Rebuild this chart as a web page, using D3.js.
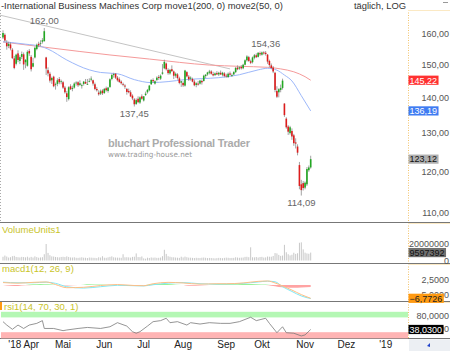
<!DOCTYPE html>
<html>
<head>
<meta charset="utf-8">
<script src="https://cdn.jsdelivr.net/npm/d3@7"></script>
<style>
body { margin: 0; background: #fff; }
svg { display: block; font-family: "Liberation Sans", Arial, sans-serif; }
</style>
</head>
<body>
<svg></svg>
<script>
// trading calendar
const firstDay = '2018-03-15';
const holidays = ['2018-03-30', '2018-05-28', '2018-07-04', '2018-09-03'];
const monthLabels = ["'18 Apr", 'Mai', 'Jun', 'Jul', 'Aug', 'Sep', 'Okt', 'Nov', 'Dez', "'19"];

// daily candles [open, high, low, close], 15.03.2018 - 06.11.2018
const ohlc = [
    [158.8,161.2,158.3,160.3],[159.7,160.2,157.4,157.8],[157.0,157.9,154.8,155.9],[156.0,157.4,155.3,156.7],
    [156.5,157.2,154.6,155.2],[154.8,155.3,151.8,152.1],[152.0,152.8,148.6,149.0],[150.3,153.5,149.8,153.2],
    [153.6,154.6,150.8,151.5],[151.2,153.0,150.2,152.4],[152.5,154.2,151.8,153.4],
    [153.3,153.9,148.4,150.1],[150.8,151.8,148.9,151.5],[149.7,154.6,149.4,154.1],[154.4,155.0,152.8,153.6],
    [152.5,153.1,147.9,148.6],[149.4,152.2,149.2,150.5],[152.3,155.8,152.0,155.4],[155.0,156.8,154.6,156.4],
    [156.7,157.4,155.6,156.2],[156.9,157.9,155.9,157.0],[157.4,158.6,156.8,157.9],[157.6,162.0,157.4,160.9],
    [152.3,152.5,146.8,148.8],[148.3,149.2,146.4,147.3],[147.2,147.8,144.5,145.1],[145.2,146.3,144.1,145.9],
    [146.3,146.6,143.1,143.4],[143.8,144.5,142.4,144.0],[144.1,145.8,143.4,145.2],[145.6,146.2,144.0,144.6],
    [144.7,145.4,144.0,144.9],
    [144.6,145.0,142.6,143.0],[143.0,143.5,141.2,141.6],[141.3,142.0,138.8,140.2],[139.6,143.4,139.2,143.1],
    [143.4,144.0,142.3,142.5],[142.6,143.6,141.9,142.9],[143.0,144.6,142.7,144.2],[144.4,144.9,143.6,144.5],
    [144.6,144.9,143.2,143.7],[143.8,145.2,143.5,144.3],[143.5,144.2,142.7,143.7],[144.1,145.0,143.6,144.8],
    [144.7,145.6,144.1,144.2],[144.0,145.6,143.8,144.1],[144.9,145.8,144.6,145.0],[145.4,146.4,144.9,145.7],
    [145.2,145.4,143.6,144.2],[144.0,144.5,142.2,142.6],[142.6,143.2,141.8,142.2],[141.5,142.2,140.6,141.0],
    [141.2,142.4,140.8,141.9],[142.1,142.5,140.8,141.3],
    [141.4,142.9,141.1,142.6],[142.8,143.3,141.8,142.2],[142.0,143.2,141.5,143.0],[143.2,145.8,142.9,145.5],
    [145.6,147.2,145.2,146.8],[146.8,147.5,146.0,147.1],[147.2,147.4,145.6,146.0],[146.0,146.5,144.8,145.2],
    [145.5,146.1,144.4,144.7],[144.8,145.2,143.9,144.3],[144.1,144.5,143.4,144.0],[143.6,144.0,142.6,143.3],
    [142.6,142.9,140.9,141.7],[142.0,142.7,141.3,141.6],[141.6,142.2,140.2,140.4],[140.6,141.0,139.3,139.8],
    [139.5,139.9,137.45,138.1],[138.2,139.8,137.9,139.3],[139.7,140.4,138.4,138.7],[138.6,140.4,138.2,140.1],
    [140.4,141.0,139.4,139.7],
    [139.2,140.5,138.9,140.4],[140.8,141.8,140.5,141.2],[141.6,142.6,141.2,142.3],[142.2,143.8,141.9,143.6],
    [144.0,145.5,143.8,145.3],[145.3,145.8,144.4,144.9],[144.2,145.2,143.9,144.9],[145.3,146.4,144.9,146.0],
    [146.2,146.8,145.3,145.9],[145.7,147.0,145.3,146.6],[147.2,150.2,146.9,147.6],[148.9,151.6,148.6,150.9],
    [150.4,150.7,148.2,148.6],[148.4,148.9,146.9,147.4],[147.3,148.7,146.9,148.4],[148.6,149.8,147.8,148.0],
    [147.9,148.2,145.6,146.6],[146.6,147.6,146.0,147.2],[147.0,147.4,145.4,145.9],[145.8,146.3,144.0,144.4],
    [144.5,145.0,143.2,144.9],
    [144.4,144.9,143.2,143.7],[143.6,148.4,143.3,148.2],[147.7,148.0,146.1,146.4],[146.3,146.8,145.0,145.5],
    [145.7,146.4,145.1,146.0],[145.6,146.0,144.6,144.8],[144.8,145.4,143.4,143.7],[143.8,144.6,143.1,144.3],
    [144.2,145.0,143.6,143.9],[144.2,145.3,143.9,145.1],[145.0,145.4,143.9,144.6],[145.0,146.9,144.8,146.6],
    [146.5,147.1,145.9,146.9],[147.0,147.8,146.6,147.6],[147.5,148.4,147.0,147.9],[147.9,148.3,146.9,147.2],
    [147.1,147.8,146.4,146.7],[146.8,147.6,146.5,147.3],[147.4,148.0,146.8,147.0],[147.0,147.8,146.5,147.5],
    [147.5,148.2,146.8,147.0],[146.9,147.8,146.4,147.5],[147.3,147.7,146.1,146.5],
    [146.6,147.2,146.0,146.4],[146.2,147.6,145.9,147.2],[147.3,147.9,146.6,146.9],[146.7,147.3,146.2,146.8],
    [147.0,148.0,146.8,147.7],[147.7,149.3,147.4,149.0],[149.1,149.8,148.3,148.6],[148.8,149.5,148.4,149.2],
    [149.3,149.9,148.5,148.9],[148.9,150.3,148.6,150.0],[150.0,151.7,149.8,151.4],[151.4,153.0,151.0,152.6],
    [152.4,152.8,150.9,151.2],[151.1,151.6,150.2,150.6],[150.8,152.6,150.4,152.3],[152.2,153.4,151.7,153.0],
    [153.0,153.6,152.1,152.4],[152.5,154.0,152.3,153.8],[153.7,154.2,152.8,153.3],
    [153.2,154.2,152.9,153.9],[153.9,154.3,153.2,153.6],[153.8,154.36,152.9,153.4],[153.2,153.4,150.3,151.0],
    [151.2,151.6,149.3,149.9],[149.8,150.4,148.6,149.0],[149.1,149.6,147.4,147.9],[147.5,147.8,141.6,142.3],
    [142.0,143.4,139.9,140.3],[141.6,142.8,140.1,142.5],[142.3,143.9,141.6,142.9],[142.9,145.7,142.4,145.1],
    [138.3,138.4,134.5,135.0],[134.0,134.4,131.2,131.6],[131.8,132.2,129.5,130.4],[130.0,132.0,129.6,131.6],
    [130.6,131.3,128.2,129.1],[129.4,129.8,126.6,127.3],[127.5,128.6,125.9,127.2],[126.4,127.0,124.1,124.8],
    [121.6,122.4,115.6,116.4],[116.8,117.9,114.09,115.4],[117.1,117.6,115.3,115.9],
    [116.0,117.5,115.6,117.2],[116.8,121.1,116.4,120.6],[120.3,121.5,119.9,121.0],[121.0,124.0,120.7,123.12]
];

// daily volume in millions
const volume = [
    4.5, 6.0, 4.8, 3.6, 4.0, 5.2, 5.6, 4.3, 4.0, 3.7, 4.4,
    4.2, 3.8, 4.6, 3.5, 4.4, 3.6, 5.0, 4.1, 3.4, 3.7, 4.0, 7.6, 20.0, 9.2, 6.4, 5.0, 4.8, 4.3, 4.0, 3.8, 4.3,
    4.5, 4.2, 5.0, 4.3, 3.7, 3.6, 3.9, 3.3, 3.2, 3.5, 3.9, 3.4, 3.3, 3.0, 3.6, 3.5, 3.3, 3.2, 2.9, 3.9, 3.6, 5.2,
    3.4, 3.3, 3.8, 4.4, 5.0, 3.9, 3.6, 3.5, 3.4, 3.3, 7.6, 3.9, 4.0, 3.8, 3.5, 4.4, 4.6, 8.6, 4.2, 4.1, 4.9,
    2.6, 2.2, 3.4, 3.1, 3.7, 3.4, 3.6, 3.2, 3.3, 3.6, 5.2, 13.0, 8.0, 5.2, 4.6, 4.0, 3.9, 3.6, 3.4, 3.2, 4.6,
    3.7, 4.7, 4.0, 3.5, 3.4, 3.2, 3.0, 3.3, 3.1, 3.0, 3.4, 3.6, 3.3, 2.9, 3.1, 3.0, 2.8, 2.6, 2.9, 3.2, 3.1, 2.8, 3.2,
    3.5, 3.3, 3.0, 3.1, 3.2, 3.9, 3.6, 3.3, 3.5, 3.6, 4.4, 4.5, 4.0, 16.0, 3.9, 3.8, 4.2, 3.6, 4.2,
    4.4, 3.6, 3.8, 4.8, 4.6, 4.6, 5.5, 9.0, 8.6, 6.8, 5.6, 6.0, 19.0, 10.0, 7.6, 6.2, 7.0, 9.4, 8.0, 8.8, 21.5, 22.0, 13.5,
    9.5, 8.6, 8.2, 9.597392
];

// moving averages read at some days (day index, value)
const ma200Days = [0, 25, 57, 78, 110, 126, 141, 148, 155, 161, 164];
const ma200 = [157.3, 155.4, 153.1, 151.8, 149.9, 149.5, 149.2, 148.7, 147.8, 146.3, 145.22];
const ma50Days = [0, 12, 20, 24, 34, 46, 52, 61, 70, 79, 88, 97, 106, 115, 126, 136, 141, 146, 150, 154, 159, 164];
const ma50 = [157.4, 156.6, 155.9, 155.0, 151.5, 148.4, 147.6, 147.2, 145.4, 144.5, 144.8, 145.4, 145.7, 146.0, 146.9, 148.4, 148.9, 148.3, 146.8, 145.0, 140.6, 136.19];

// trend line
const trendDays = [-1.6, 121];
const trend = [166.4, 148.7];

// extremes that get a label
const highDays = [22, 140];
const lowDays = [70, 159];

// macd
const macdDays = [0, 8, 16, 23, 28, 34, 43, 52, 61, 70, 75, 80, 88, 96, 105, 114, 119, 128, 136, 141, 145, 149, 154, 159, 164];
const macd = [1.2, 0.9, 1.3, 1.5, 0.2, -1.4, -1.2, -0.3, 0.2, -0.3, -0.4, 0.6, 1.3, 1.0, 0.4, 0.6, 0.6, 1.0, 1.8, 2.0, 1.0, -0.5, -2.6, -4.9, -6.7726];
const signal = [1.4, 1.1, 1.1, 1.4, 0.8, -0.9, -1.6, -0.9, -0.2, -0.4, -0.5, 0.1, 0.9, 1.2, 0.6, 0.4, 0.5, 0.8, 1.5, 1.9, 1.6, -0.9, -3.3, -5.6, -6.9];
const histDays = [0, 4, 8, 12, 16, 20, 24, 28, 34, 40, 46, 52, 58, 64, 68, 72, 76, 80, 85, 90, 95, 100, 105, 110, 115, 120, 125, 130, 135, 140, 143, 147, 151, 155, 159, 164];
const hist = [0, -0.4, -0.5, -0.2, 0.3, 0.5, 0.3, 0, -0.3, 0, 0.4, 0.2, 0, -0.1, -0.4, -0.5, -0.2, 0.3, 0.5, 0.4, 0, -0.4, -0.3, 0, 0.3, 0.4, 0.4, 0.5, 0.4, 0.2, -0.4, -1.0, -1.3, -1.4, -1.3, -1.1];

// rsi
const rsiDays = [0, 2, 5, 8, 11, 14, 18, 21, 22, 27, 32, 34, 40, 45, 52, 57, 61, 66, 69, 71, 73, 77, 80, 84, 87, 89, 93, 98, 100, 105, 110, 116, 121, 126, 132, 135, 140, 142, 146, 149, 151, 155, 159, 161, 164];
const rsi = [61, 51, 38.5, 51, 41, 51, 56, 64, 41, 41, 34.5, 36.5, 41, 44, 41, 46, 58, 48, 31.5, 27, 31.5, 48, 61, 64, 71, 58, 61, 51, 58, 54, 58, 56, 56, 61, 74, 64, 71, 56, 28.5, 46, 28.5, 27, 19, 22, 38.03];
const rsiBands = [[73.5, 90, '#b4f7b4'], [12, 30, '#ffb4b4']];

const priceTicks = [110, 120, 130, 140, 150, 160];
const volTicks = [0, 20000000];
const macdTicks = [2.5, -5];
const rsiTicks = [80, 40];

const W = 450, H = 351;
const plotRight = 408;

const svg = d3.select('svg').attr('width', W).attr('height', H);

// trading days from the first candle on, weekends and holidays left out
const days = [];
for (let d = new Date(firstDay + 'T12:00:00'); days.length < 220; d.setDate(d.getDate() + 1)) {
    const key = d3.timeFormat('%Y-%m-%d')(d);
    if (d.getDay() !== 0 && d.getDay() !== 6 && !holidays.includes(key)) days.push(new Date(d));
}
const monthStarts = d3.range(1, days.length).filter(i => days[i].getMonth() !== days[i - 1].getMonth());

const x = d3.scaleLinear().domain([-1.6, 216.4]).range([0, 409]);
const yPrice = d3.scaleLog().domain([107.95, 168.2]).range([222, 10]);
const yVol = d3.scaleLinear().domain([0, 20e6]).range([260.5, 244]);
const yMacd = d3.scaleLinear().domain([-5, 2.5]).range([294.8, 280]);
const yRsi = d3.scaleLinear().domain([10, 100]).range([339, 308.4]);

const comma = f => v => d3.format(f)(v).replace('.', ',');

const defs = svg.append('defs');
defs.append('clipPath').attr('id', 'clipPrice')
    .append('rect').attr('x', 0).attr('y', 10).attr('width', plotRight).attr('height', 212);

// panel frames
svg.append('line').attr('x1', 0.5).attr('x2', 0.5).attr('y1', 10).attr('y2', 222)
    .attr('stroke', '#aaa').attr('stroke-dasharray', '1,2');
[[10, 222], [223, 263], [264, 301], [302, 338]].forEach(([a, b]) => {
    svg.append('line').attr('x1', plotRight + 0.5).attr('x2', plotRight + 0.5).attr('y1', a).attr('y2', b)
        .attr('stroke', '#f2c36b').attr('stroke-dasharray', '1,1.5');
    svg.append('line').attr('x1', plotRight).attr('x2', W).attr('y1', a + 0.5).attr('y2', a + 0.5)
        .attr('stroke', '#fbe9c4');
});
[222.5, 263.5, 301.5, 338.5].forEach(y => {
    svg.append('line').attr('x1', 0).attr('x2', W).attr('y1', y).attr('y2', y)
        .attr('stroke', '#777').attr('stroke-width', 1.2);
});
svg.append('rect').attr('x', plotRight + 1).attr('y', 339.5).attr('width', W - plotRight).attr('height', 12)
    .attr('fill', '#eceff3');
svg.append('path').attr('d', 'M427,346 L430,343 L430,347 Z').attr('fill', '#2244cc');

// title
svg.append('text').attr('x', 1).attr('y', 8.5).attr('font-size', 9.4).attr('fill', '#333')
    .text('-International Business Machines Corp move1(200, 0) move2(50, 0)');
svg.append('text').attr('x', 406).attr('y', 8.5).attr('text-anchor', 'end').attr('font-size', 9.4).attr('fill', '#333')
    .text('täglich, LOG');
svg.append('line').attr('x1', 443).attr('x2', 448).attr('y1', 2.5).attr('y2', 2.5).attr('stroke', '#999');

// watermark
svg.append('text').attr('x', 108).attr('y', 147).attr('font-size', 11).attr('font-weight', 'bold')
    .attr('font-family', '"Liberation Sans Narrow", "Liberation Sans", sans-serif')
    .attr('fill', '#ababab').attr('textLength', 142).attr('lengthAdjust', 'spacing')
    .text('bluchart Professional Trader');
svg.append('text').attr('x', 108).attr('y', 157).attr('font-size', 7.5)
    .attr('font-family', '"DejaVu Sans", sans-serif')
    .attr('fill', '#9a9a9a').attr('textLength', 84).attr('lengthAdjust', 'spacingAndGlyphs')
    .text('www.trading-house.net');

// price panel
const pricePlot = svg.append('g').attr('clip-path', 'url(#clipPrice)');

pricePlot.append('path')
    .datum(trendDays.map((d, i) => [d, trend[i]]))
    .attr('fill', 'none').attr('stroke', '#c4c4c4').attr('stroke-width', 1)
    .attr('d', d3.line().x(d => x(d[0])).y(d => yPrice(d[1])));

const maLine = d3.line().curve(d3.curveMonotoneX).x(d => x(d[0])).y(d => yPrice(d[1]));
pricePlot.append('path')
    .datum(ma200Days.map((d, i) => [d, ma200[i]]))
    .attr('fill', 'none').attr('stroke', '#f59a9a').attr('stroke-width', 1).attr('d', maLine);
pricePlot.append('path')
    .datum(ma50Days.map((d, i) => [d, ma50[i]]))
    .attr('fill', 'none').attr('stroke', '#9db8fa').attr('stroke-width', 1).attr('d', maLine);

const candle = pricePlot.selectAll('.candle')
    .data(ohlc)
    .enter().append('g')
    .attr('class', 'candle');
candle.append('line')
    .attr('x1', (d, i) => x(i)).attr('x2', (d, i) => x(i))
    .attr('y1', d => yPrice(d[1])).attr('y2', d => yPrice(d[2]))
    .attr('stroke', '#8a8a8a').attr('stroke-width', 0.8);
candle.append('rect')
    .attr('x', (d, i) => x(i) - 0.8)
    .attr('width', 1.6)
    .attr('y', d => yPrice(Math.max(d[0], d[3])))
    .attr('height', d => Math.max(0.8, yPrice(Math.min(d[0], d[3])) - yPrice(Math.max(d[0], d[3]))))
    .attr('fill', d => d[3] >= d[0] ? '#22a822' : '#dd1c1c');

svg.selectAll('.hi')
    .data(highDays)
    .enter().append('text')
    .attr('class', 'hi')
    .attr('x', d => x(d)).attr('y', d => yPrice(ohlc[d][1]) - 4)
    .attr('text-anchor', 'middle').attr('font-size', 9.5).attr('fill', '#666')
    .text(d => comma('.2f')(ohlc[d][1]));
svg.selectAll('.lo')
    .data(lowDays)
    .enter().append('text')
    .attr('class', 'lo')
    .attr('x', d => x(d)).attr('y', d => yPrice(ohlc[d][2]) + 10.5)
    .attr('text-anchor', 'middle').attr('font-size', 9.5).attr('fill', '#666')
    .text(d => comma('.2f')(ohlc[d][2]));

// right axis labels
function tickLabels(ticks, scale, fmt) {
    svg.selectAll(null)
        .data(ticks)
        .enter().append('text')
        .attr('x', 449).attr('y', d => scale(d) + 3.3)
        .attr('text-anchor', 'end').attr('font-size', 9).attr('fill', '#555')
        .text(fmt);
}
function valueBox(y, label, bg, fg) {
    const t = svg.append('text').attr('x', 409.5).attr('y', y + 3.3).attr('font-size', 9).attr('fill', fg).text(label);
    const w = t.node().getComputedTextLength();
    svg.insert('rect', () => t.node())
        .attr('x', plotRight + 0.5).attr('y', y - 4.6).attr('width', w + 2.5).attr('height', 9.2).attr('fill', bg);
}

tickLabels(priceTicks, yPrice, comma('.2f'));
valueBox(yPrice(ma200[ma200.length - 1]), comma('.2f')(ma200[ma200.length - 1]), '#ff3131', '#fff');
valueBox(yPrice(ma50[ma50.length - 1]), comma('.2f')(ma50[ma50.length - 1]), '#3f7cf2', '#fff');
valueBox(yPrice(ohlc[ohlc.length - 1][3]), comma('.2f')(ohlc[ohlc.length - 1][3]), '#b0b0b0', '#111');

// volume panel
svg.append('text').attr('x', 2).attr('y', 233).attr('font-size', 9.5).attr('fill', '#c9c429').text('VolumeUnits1');
svg.selectAll('.vol')
    .data(volume)
    .enter().append('rect')
    .attr('class', 'vol')
    .attr('x', (d, i) => x(i) - 0.5)
    .attr('width', 1)
    .attr('y', d => yVol(d * 1e6))
    .attr('height', d => yVol(0) - yVol(d * 1e6))
    .attr('fill', '#c8c8c8');
tickLabels(volTicks, yVol, d => d3.format('d')(d));
valueBox(yVol(volume[volume.length - 1] * 1e6), d3.format('d')(Math.round(volume[volume.length - 1] * 1e6)), '#707070', '#111');

// macd panel
svg.append('text').attr('x', 2).attr('y', 272).attr('font-size', 9.5).attr('fill', '#c9c429').text('macd1(12, 26, 9)');
const histPts = histDays.map((d, i) => [d, hist[i]]);
svg.append('path').datum(histPts).attr('fill', '#7fef7f').attr('opacity', 0.8)
    .attr('d', d3.area().curve(d3.curveMonotoneX).x(d => x(d[0])).y0(yMacd(0)).y1(d => yMacd(Math.max(0, d[1]))));
svg.append('path').datum(histPts).attr('fill', '#ff8c8c').attr('opacity', 0.8)
    .attr('d', d3.area().curve(d3.curveMonotoneX).x(d => x(d[0])).y0(yMacd(0)).y1(d => yMacd(Math.min(0, d[1]))));
const macdLine = d3.line().curve(d3.curveMonotoneX).x(d => x(d[0])).y(d => yMacd(d[1]));
svg.append('path').datum(macdDays.map((d, i) => [d, signal[i]]))
    .attr('fill', 'none').attr('stroke', '#7fe9f5').attr('stroke-width', 1).attr('d', macdLine);
svg.append('path').datum(macdDays.map((d, i) => [d, macd[i]]))
    .attr('fill', 'none').attr('stroke', '#ffbe85').attr('stroke-width', 1).attr('d', macdLine);
tickLabels(macdTicks, yMacd, comma('.4f'));
valueBox(yMacd(macd[macd.length - 1]), comma('.4f')(macd[macd.length - 1]), '#ff9a12', '#222');

// rsi panel
svg.selectAll('.band')
    .data(rsiBands)
    .enter().append('rect')
    .attr('x', 1).attr('width', plotRight - 1)
    .attr('y', d => yRsi(d[1])).attr('height', d => yRsi(d[0]) - yRsi(d[1]))
    .attr('fill', d => d[2]);
svg.append('rect').attr('x', 0).attr('y', 302).attr('width', 2).attr('height', 8).attr('fill', '#ff9a12');
svg.append('text').attr('x', 4).attr('y', 310).attr('font-size', 9.5).attr('fill', '#c9c429').text('rsi1(14, 70, 30, 1)');
svg.append('path').datum(rsiDays.map((d, i) => [d, rsi[i]]))
    .attr('fill', 'none').attr('stroke', '#7a7a7a').attr('stroke-width', 0.8)
    .attr('d', d3.line().x(d => x(d[0])).y(d => yRsi(d[1])));
tickLabels(rsiTicks, yRsi, comma('.4f'));
valueBox(yRsi(rsi[rsi.length - 1]), comma('.4f')(rsi[rsi.length - 1]), '#000', '#fff');

// month labels
const monthText = svg.selectAll('.month')
    .data(monthStarts.slice(0, monthLabels.length))
    .enter().append('text')
    .attr('class', 'month')
    .attr('y', 348).attr('font-size', 10).attr('fill', '#222')
    .text((d, i) => monthLabels[i]);
monthText.each(function (d) {
    const w = this.getComputedTextLength();
    d3.select(this).attr('x', Math.max(0, x(d) - w / 2));
});
</script>
</body>
</html>
